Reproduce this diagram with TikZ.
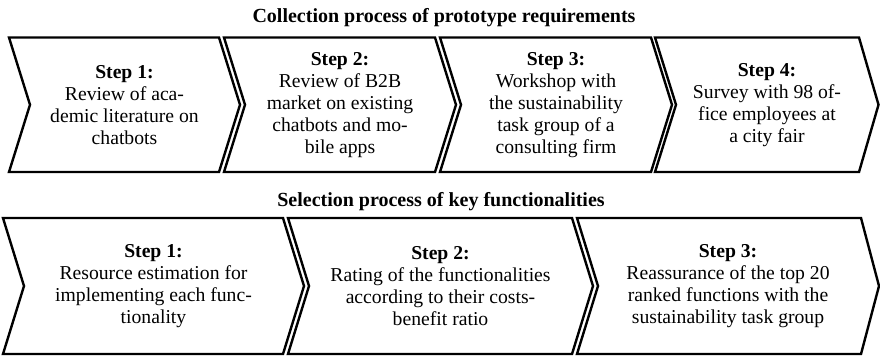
\documentclass[tikz,border=0pt]{standalone}
\usepackage{fontspec}
\setmainfont{Liberation Serif}

\tikzset{every picture/.style={line width=0.75pt}}
\tikzset{
  chevron/.style={line width=1.8, line join=miter},
  steptext/.style={align=center, inner sep=0.75pt, font=\fontsize{14.75}{16.5}\selectfont},
  rowtitle/.style={anchor=base, inner sep=0.75pt, font=\bfseries\fontsize{15}{18}\selectfont}
}

\begin{document}
\begin{tikzpicture}[x=0.75pt,y=0.75pt,yscale=-1,xscale=1]
\useasboundingbox (0,0) rectangle (880,355); %diagram is 880 wide and 355 high

%Shape: Chevron [upper row, 1]
\draw [chevron] (9,37.5) -- (219,37.5) -- (240,104.75) -- (219,172) -- (9,172) -- (30,104.75) -- cycle ;
%Shape: Chevron [upper row, 2]
\draw [chevron] (224,37.5) -- (435,37.5) -- (456,104.75) -- (435,172) -- (224,172) -- (245,104.75) -- cycle ;
%Shape: Chevron [upper row, 3]
\draw [chevron] (440,37.5) -- (651,37.5) -- (672,104.75) -- (651,172) -- (440,172) -- (461,104.75) -- cycle ;
%Shape: Chevron [upper row, 4]
\draw [chevron] (655,37.5) -- (859,37.5) -- (878.5,104.75) -- (859,172) -- (655,172) -- (676,104.75) -- cycle ;

%Shape: Chevron [lower row, 1]
\draw [chevron] (3,218) -- (283,218) -- (304,286) -- (283,354) -- (3,354) -- (24,286) -- cycle ;
%Shape: Chevron [lower row, 2]
\draw [chevron] (288,218) -- (572,218) -- (593,286) -- (572,354) -- (288,354) -- (309,286) -- cycle ;
%Shape: Chevron [lower row, 3]
\draw [chevron] (577,218) -- (861,218) -- (879,286) -- (861,354) -- (577,354) -- (598,286) -- cycle ;

% Text Node
\draw (444,22.5) node [rowtitle] (collecttitle) {Collection process of prototype requirements};
% Text Node
\draw (124.5,104.75) node [steptext] (collect1) {\textbf{Step 1:}\\Review of aca-\\demic literature on\\chatbots};
% Text Node
\draw (340,104.75) node [steptext] (collect2) {\textbf{Step 2:}\\Review of B2B\\market on existing\\chatbots and mo-\\bile apps};
% Text Node
\draw (556,104.75) node [steptext] (collect3) {\textbf{Step 3:}\\Workshop with\\the sustainability\\task group of a\\consulting firm};
% Text Node
\draw (767,104.75) node [steptext] (collect4) {\textbf{Step 4:}\\Survey with 98 of-\\fice employees at\\a city fair};

% Text Node
\draw (441,206.5) node [rowtitle] (selecttitle) {Selection process of key functionalities};
% Text Node
\draw (153.5,286) node [steptext] (select1) {\textbf{Step 1:}\\Resource estimation for\\implementing each func-\\tionality};
% Text Node
\draw (440.5,286) node [steptext] (select2) {\textbf{Step 2:}\\Rating of the functionalities\\according to their costs-\\benefit ratio};
% Text Node
\draw (728,286) node [steptext] (select3) {\textbf{Step 3:}\\Reassurance of the top 20\\ranked functions with the\\sustainability task group};

\end{tikzpicture}
\end{document}
